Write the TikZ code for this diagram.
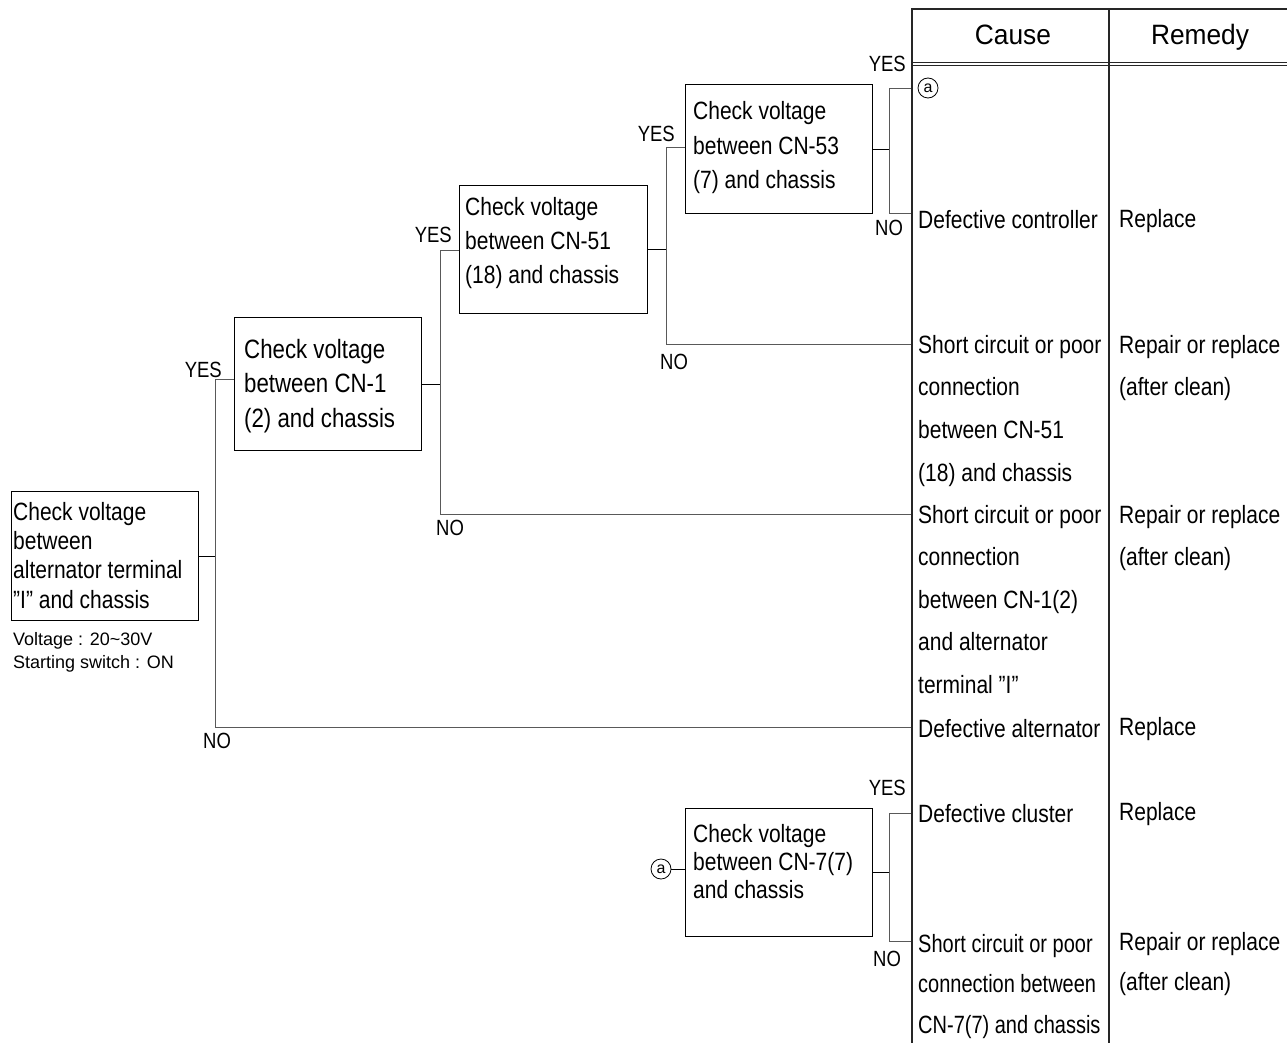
\documentclass[tikz,border=0pt]{standalone}
\usepackage{fontspec}
\setmainfont{Liberation Sans}[FakeStretch=0.84]
\newfontfamily\headfont{Liberation Sans}[FakeStretch=0.94]
\newfontfamily\notefont{Liberation Sans}
\newfontfamily\narrowfont{Liberation Sans}[FakeStretch=0.8]
\begin{document}
\begin{tikzpicture}[x=1pt,y=-1pt,
  box/.style={draw, line width=1.2pt, rectangle, inner sep=0pt, anchor=north west},
  btext/.style={anchor=base west, inner sep=0pt, align=left},
  lbl/.style={inner sep=0pt, font=\fontsize{22}{26}\selectfont},
  con/.style={line width=1pt, black!65},
  stub/.style={line width=1pt, black},
  tab/.style={line width=2pt, black!85},
  cell/.style={anchor=base west, inner sep=0pt, align=left, font=\fontsize{25}{42.6}\selectfont},
  circ/.style={circle, draw, line width=0.8pt, minimum size=20pt, inner sep=0pt, font=\notefont\fontsize{16}{16}\selectfont},
  head/.style={anchor=base, inner sep=0pt, font=\headfont\fontsize{28}{30}\selectfont}
]
\useasboundingbox (0,0) rectangle (1287,1043);

% boxes
\node[box, minimum width=187pt, minimum height=129pt] (b1) at (11,491) {};
\node[box, minimum width=187pt, minimum height=133pt] (b2) at (234,317) {};
\node[box, minimum width=188pt, minimum height=128pt] (b3) at (459,185) {};
\node[box, minimum width=187pt, minimum height=129pt] (b4) at (685,84) {};
\node[box, minimum width=187pt, minimum height=128pt] (b5) at (685,808) {};

% box texts (anchor = baseline of the last line)
\node[btext, font=\fontsize{25}{29.3}\selectfont] (t1) at (13,608) {Check voltage\\between\\alternator terminal\\"I” and chassis};
\node[btext, font=\notefont\fontsize{18}{23}\selectfont] (note) at (13,668) {Voltage : 20\textasciitilde 30V\\Starting switch : ON};
\node[btext, font=\fontsize{26.5}{34.5}\selectfont] (t2) at (244,427) {Check voltage\\between CN-1\\(2) and chassis};
\node[btext, font=\fontsize{25}{34}\selectfont] (t3) at (465,283) {Check voltage\\between CN-51\\(18) and chassis};
\node[btext, font=\fontsize{25}{34.5}\selectfont] (t4) at (693,189) {Check voltage\\between CN-53\\(7) and chassis};
\node[btext, font=\fontsize{25}{28}\selectfont] (t5) at (693,898) {Check voltage\\between CN-7(7)\\and chassis};

% circles
\node[circ] (c1) at (928,88) {a};
\node[circ] (c2) at (661,869) {a};

% table edge coordinates
\coordinate (e1) at (912,89);
\coordinate (e2) at (912,213);
\coordinate (e3) at (912,344);
\coordinate (e4) at (912,514);
\coordinate (e5) at (912,727);
\coordinate (e6) at (912,813);
\coordinate (e7) at (912,941);

% junctions
\coordinate (y1) at (215,379); \coordinate (n1) at (215,727);
\coordinate (y2) at (440,250); \coordinate (n2) at (440,514);
\coordinate (y3) at (666,148); \coordinate (n3) at (666,344);
\coordinate (y4) at (889,89);  \coordinate (n4) at (889,213);
\coordinate (y5) at (889,813); \coordinate (n5) at (889,941);

% connectors
\draw[stub] (b1.east) -- (b1.east -| y1);
\draw[con] (y1 -| b2.west) -- (y1) -- (n1) -- (e5);
\draw[stub] (b2.east) -- (b2.east -| y2);
\draw[con] (y2 -| b3.west) -- (y2) -- (n2) -- (e4);
\draw[stub] (b3.east) -- (b3.east -| y3);
\draw[con] (y3 -| b4.west) -- (y3) -- (n3) -- (e3);
\draw[stub] (b4.east) -- (b4.east -| y4);
\draw[con] (e1) -- (y4) -- (n4) -- (e2);
\draw[stub] (b5.east) -- (b5.east -| y5);
\draw[con] (e6) -- (y5) -- (n5) -- (e7);
\draw[stub] (c2.east) -- (c2.east -| b5.west);

% YES / NO labels
\node[lbl, anchor=base east] (ly1) at (222,377) {YES};
\node[lbl, anchor=base west] (ln1) at (203,748) {NO};
\node[lbl, anchor=base east] (ly2) at (452,242) {YES};
\node[lbl, anchor=base west] (ln2) at (436,535) {NO};
\node[lbl, anchor=base east] (ly3) at (675,142) {YES};
\node[lbl, anchor=base west] (ln3) at (660,369) {NO};
\node[lbl, anchor=base east] (ly4) at (906,72) {YES};
\node[lbl, anchor=base west] (ln4) at (875,235) {NO};
\node[lbl, anchor=base east] (ly5) at (906,795) {YES};
\node[lbl, anchor=base west] (ln5) at (873,966) {NO};

% table
\coordinate (tl) at (912,9);
\coordinate (tm) at (1109,9);
\coordinate (tr) at (1287,9);
\draw[tab] (tl |- 0,1043) -- (tl) -- (tr);
\draw[tab] (tm) -- (tm |- 0,1043);
\draw[line width=0.9pt, black!85] (912,62) -- (1287,62);
\draw[line width=0.9pt, black!85] (912,65.5) -- (1287,65.5);
\node[head] (hc) at (1013,45) {Cause};
\node[head] (hr) at (1200,45) {Remedy};

% cells (anchor = baseline of the last line)
\node[cell] (k1) at (918,228) {Defective controller};
\node[cell] (r1) at (1119,227) {Replace};
\node[cell] (k2) at (918,481) {Short circuit or poor\\connection\\between CN-51\\(18) and chassis};
\node[cell] (r2) at (1119,395.6) {Repair or replace\\(after clean)};
\node[cell] (k3) at (918,693.4) {Short circuit or poor\\connection\\between CN-1(2)\\and alternator\\terminal "I”};
\node[cell] (r3) at (1119,565.6) {Repair or replace\\(after clean)};
\node[cell] (k4) at (918,737) {Defective alternator};
\node[cell] (r4) at (1119,735) {Replace};
\node[cell] (k5) at (918,822) {Defective cluster};
\node[cell] (r5) at (1119,820) {Replace};
\node[cell, font=\narrowfont\fontsize{25}{40.5}\selectfont] (k6) at (918,1033) {Short circuit or poor\\connection between\\CN-7(7) and chassis};
\node[cell, font=\fontsize{25}{40.5}\selectfont] (r6) at (1119,990.5) {Repair or replace\\(after clean)};
\end{tikzpicture}
\end{document}
